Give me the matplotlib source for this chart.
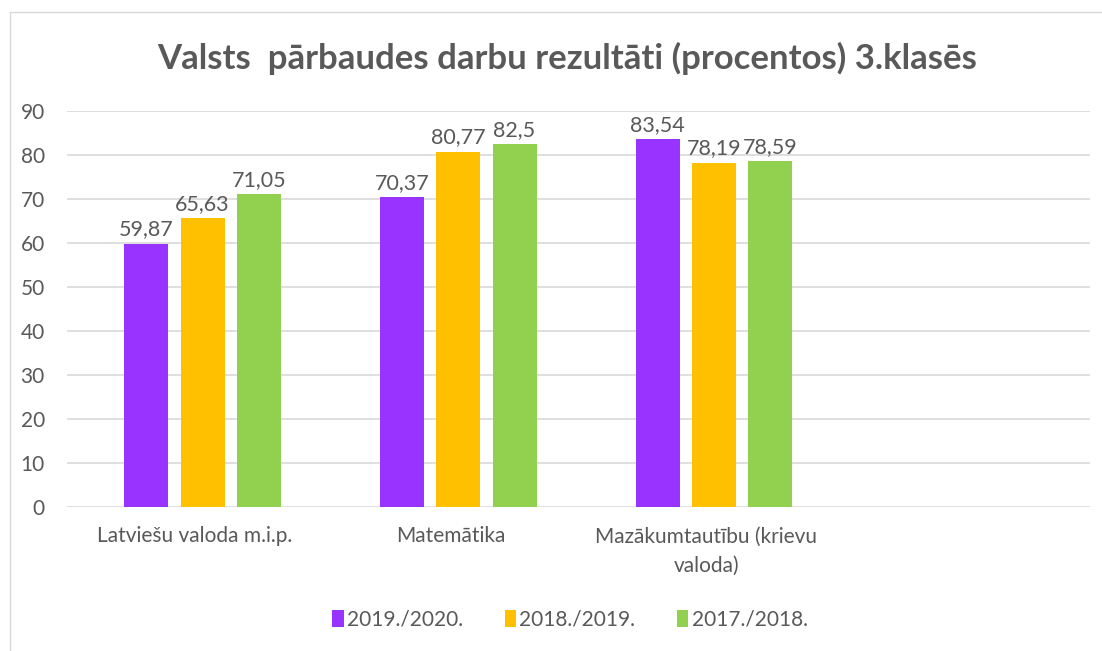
import matplotlib.pyplot as plt
import numpy as np
from matplotlib.patches import Rectangle

plt.rcParams['font.family'] = ['Lato', 'DejaVu Sans']

categories = ["Latviešu valoda m.i.p.", "Matemātika", "Mazākumtautību (krievu\nvaloda)", ""]
series = ["2019./2020.", "2018./2019.", "2017./2018."]
v2019 = [59.87, 70.37, 83.54, np.nan]
v2018 = [65.63, 80.77, 78.19, np.nan]
v2017 = [71.05, 82.5, 78.59, np.nan]
labels2019 = ["59,87", "70,37", "83,54"]
labels2018 = ["65,63", "80,77", "78,19"]
labels2017 = ["71,05", "82,5", "78,59"]
colors = ["#9933FF", "#FFC000", "#92D050"]
text_col = "#595959"

fig = plt.figure(figsize=(11.02, 6.51), dpi=100)
ax = fig.add_axes([67 / 1102, 1 - 507 / 651, (1090 - 67) / 1102, (507 - 111) / 651])

# chart border
fig.patches.append(Rectangle((10 / 1102, -0.1), 1.2, 1 - 12 / 651 + 0.1, transform=fig.transFigure,
                             fill=False, edgecolor="#d9d9d9", lw=1))

x = np.arange(len(categories)) + 0.03
w = 0.172
step = 0.22
all_vals = [v2019, v2018, v2017]
all_labels = [labels2019, labels2018, labels2017]
for k, (vals, labs) in enumerate(zip(all_vals, all_labels)):
    pos = x + (k - 1) * step
    bars = ax.bar(pos, vals, width=w, color=colors[k], label=series[k], zorder=3)
    for b, t in zip(bars, labs):
        ax.text(b.get_x() + b.get_width() / 2, b.get_height() + 1.0, t, ha="center", va="bottom",
                fontsize=15.5, color=text_col)

ax.set_xlim(-0.5, 3.5)
ax.set_ylim(0, 90)
ax.set_yticks(np.arange(0, 91, 10))
ax.set_xticks(np.arange(len(categories)))
ax.set_xticklabels(categories, fontsize=15, color=text_col, linespacing=1.6)
ax.tick_params(axis="both", length=0, labelsize=15, labelcolor=text_col)
ax.tick_params(axis="x", pad=14)
ax.tick_params(axis="y", pad=16)
ax.yaxis.grid(True, color="#d9d9d9", lw=1.2, zorder=0)
for s in ax.spines.values():
    s.set_visible(False)

fig.text(567 / 1102, 1 - 58 / 651, "Valsts  pārbaudes darbu rezultāti (procentos) 3.klasēs",
         ha="center", va="center", fontsize=25, fontweight="bold", color=text_col)

fig.legend(loc="center", bbox_to_anchor=(570 / 1102, 1 - 620 / 651), ncol=3, frameon=False,
           fontsize=15, labelcolor=text_col, handlelength=0.55, handleheight=0.85,
           handletextpad=0.15, columnspacing=2.0)

fig.savefig("out.png", dpi=100)
